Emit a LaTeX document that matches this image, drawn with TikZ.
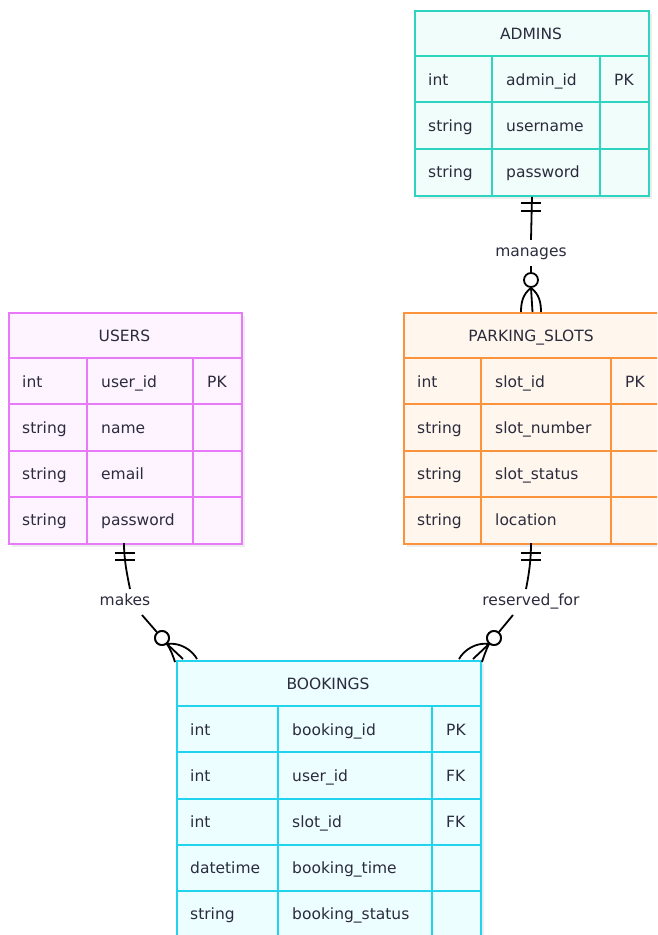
\documentclass[tikz,border=0pt]{standalone}
\usepackage{fontspec}
\setmainfont{DejaVu Sans}
\usetikzlibrary{calc}
\definecolor{txt}{HTML}{2B2B3D}
\definecolor{admline}{HTML}{2DD4BF}
\definecolor{admfill}{HTML}{F0FDFA}
\definecolor{usrline}{HTML}{E879F9}
\definecolor{usrfill}{HTML}{FDF4FF}
\definecolor{parline}{HTML}{FB923C}
\definecolor{parfill}{HTML}{FFF7ED}
\definecolor{bokline}{HTML}{22D3EE}
\definecolor{bokfill}{HTML}{ECFEFF}
\definecolor{shadowc}{HTML}{EDEDED}
\newcommand{\rowh}{46.2}
% #1 name, #2 x0, #3 y0, #4 c1, #5 c2, #6 x3, #7 nrows, #8 colour prefix
\newcommand{\ertbl}[8]{%
  \fill[shadowc] ({#2+4},{#3+4}) rectangle ({#6+4},{#3+\rowh*(#7+1)+4});
  \node[draw=#8line, fill=#8fill, line width=2pt, inner sep=0pt,
        minimum width={#6-#2}, minimum height={\rowh*(#7+1)},
        anchor=north west] (#1) at (#2,#3) {};
  \foreach \i in {1,...,#7}
    \draw[#8line, line width=2pt] (#2,{#3+\rowh*\i}) -- (#6,{#3+\rowh*\i});
  \draw[#8line, line width=2pt] (#4,{#3+\rowh}) -- (#4,{#3+\rowh*(#7+1)});
  \draw[#8line, line width=2pt] (#5,{#3+\rowh}) -- (#5,{#3+\rowh*(#7+1)});
}
% #1 prefix, #2 x0, #3 c1, #4 c2, #5 y0, #6 row, #7 type, #8 field, #9 key
\newcommand{\errow}[9]{%
  \node[cell] (#1-t#6) at ({#2+14},{#5+\rowh*(#6+0.5)+5.8}) {#7};
  \node[cell] (#1-f#6) at ({#3+14},{#5+\rowh*(#6+0.5)+5.8}) {#8};
  \node[cell] (#1-k#6) at ({#4+14},{#5+\rowh*(#6+0.5)+5.8}) {#9};
}
\begin{document}
\begin{tikzpicture}[x=1pt,y=-1pt,
  cell/.style={anchor=base west, inner sep=0pt, text=txt, font=\fontsize{15.5}{18}\selectfont},
  hdr/.style={anchor=base, inner sep=0pt, text=txt, font=\fontsize{15.5}{18}\selectfont},
  lbl/.style={fill=white, inner sep=0pt, text height=11pt, text depth=4pt, minimum height=26pt, text=txt, font=\fontsize{15.5}{18}\selectfont},
  rel/.style={line width=1.8pt, black},
  circ/.style={line width=1.8pt, draw=black, fill=white, circle, inner sep=0pt, minimum size=14pt}]
\useasboundingbox (0,0) rectangle (657,935);
\clip (0,0) rectangle (657,935);
\fill[white] (0,0) rectangle (657,935);

% ADMINS
\ertbl{admins}{414}{10}{492}{600}{648}{3}{adm}
\node[hdr] (admins-h) at ({(414+648)/2},{10+\rowh/2+6}) {ADMINS};
\errow{adm}{414}{492}{600}{10}{1}{int}{admin\_id}{PK}
\errow{adm}{414}{492}{600}{10}{2}{string}{username}{}
\errow{adm}{414}{492}{600}{10}{3}{string}{password}{}

% USERS
\ertbl{users}{8}{312}{87}{193}{241}{4}{usr}
\node[hdr] (users-h) at ({(8+241)/2},{312+\rowh/2+6}) {USERS};
\errow{usr}{8}{87}{193}{312}{1}{int}{user\_id}{PK}
\errow{usr}{8}{87}{193}{312}{2}{string}{name}{}
\errow{usr}{8}{87}{193}{312}{3}{string}{email}{}
\errow{usr}{8}{87}{193}{312}{4}{string}{password}{}

% PARKING_SLOTS
\ertbl{slots}{403}{312}{481}{611}{660}{4}{par}
\node[hdr] (slots-h) at (531,{312+\rowh/2+6}) {PARKING\_SLOTS};
\errow{par}{403}{481}{611}{312}{1}{int}{slot\_id}{PK}
\errow{par}{403}{481}{611}{312}{2}{string}{slot\_number}{}
\errow{par}{403}{481}{611}{312}{3}{string}{slot\_status}{}
\errow{par}{403}{481}{611}{312}{4}{string}{location}{}

% BOOKINGS
\ertbl{bookings}{176}{660}{278}{432}{480}{5}{bok}
\node[hdr] (bookings-h) at ({(176+480)/2},{660+\rowh/2+6}) {BOOKINGS};
\errow{bok}{176}{278}{432}{660}{1}{int}{booking\_id}{PK}
\errow{bok}{176}{278}{432}{660}{2}{int}{user\_id}{FK}
\errow{bok}{176}{278}{432}{660}{3}{int}{slot\_id}{FK}
\errow{bok}{176}{278}{432}{660}{4}{datetime}{booking\_time}{}
\errow{bok}{176}{278}{432}{660}{5}{string}{booking\_status}{}

% ---- manages: ADMINS ||--o{ PARKING_SLOTS
\node[lbl] (l-manages) at (531,253) {manages};
\node[circ] (c-manages) at (531,280) {};
\draw[rel] (admins.south) -- (l-manages.north);
\draw[rel] (l-manages.south) -- (c-manages.north);
\draw[rel] (521,203) -- (541,203);
\draw[rel] (521,211) -- (541,211);
\draw[rel] (c-manages.south) -- (slots.north);
\draw[rel] (c-manages.south) .. controls (523,294) and (521,302) .. (521,312);
\draw[rel] (c-manages.south) .. controls (539,294) and (541,302) .. (541,312);

% ---- makes: USERS ||--o{ BOOKINGS
\node[lbl] (l-makes) at (125,602) {makes};
\node[circ] (c-makes) at (162,638) {};
\coordinate (u-out) at (124,543);
\draw[rel] (u-out) .. controls (124,560) and (127,574) .. (130,589);
\draw[rel] (115,553) -- (135,553);
\draw[rel] (115,560) -- (135,560);
\draw[rel] (142,615) -- (c-makes);
\fill[white] (c-makes.center) circle (6.1pt);
\draw[line width=1.8pt] (c-makes.center) circle (7pt);
\coordinate (mk) at (167,644);
\draw[rel] (mk) .. controls (171,650) and (173,656) .. (175,662);
\draw[rel] (mk) -- (183,659);
\draw[rel] (mk) .. controls (180,642) and (192,650) .. (197,659);

% ---- reserved_for: PARKING_SLOTS ||--o{ BOOKINGS
\node[lbl] (l-res) at (531,602) {reserved\_for};
\node[circ] (c-res) at (494,638) {};
\coordinate (s-out) at (531,543);
\draw[rel] (s-out) .. controls (531,560) and (529,574) .. (526,589);
\draw[rel] (521,553) -- (541,553);
\draw[rel] (521,560) -- (541,560);
\draw[rel] (513,615) -- (c-res);
\fill[white] (c-res.center) circle (6.1pt);
\draw[line width=1.8pt] (c-res.center) circle (7pt);
\coordinate (rk) at (489,644);
\draw[rel] (rk) .. controls (486,650) and (484,656) .. (482,662);
\draw[rel] (rk) -- (473,659);
\draw[rel] (rk) .. controls (476,642) and (464,650) .. (459,659);
\end{tikzpicture}
\end{document}
